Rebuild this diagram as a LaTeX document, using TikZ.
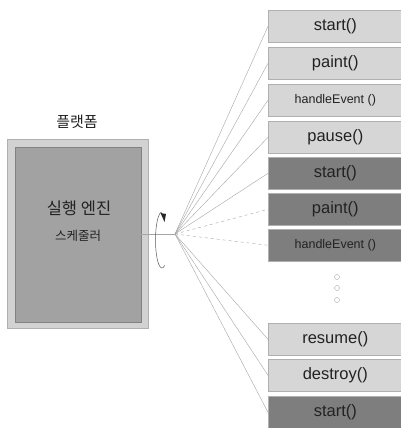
\documentclass[tikz,border=0pt]{standalone}
\usepackage{fontspec}
\setmainfont{Liberation Sans}
\newfontfamily\kor{Noto Sans CJK KR}
\usetikzlibrary{arrows.meta}
\definecolor{lightbox}{HTML}{D6D6D6}
\definecolor{darkbox}{HTML}{7E7E7E}
\definecolor{boxline}{HTML}{B0B0B0}
\definecolor{outerbox}{HTML}{D2D2D2}
\definecolor{innerbox}{HTML}{A2A2A2}
\definecolor{txt}{HTML}{222222}
\begin{document}
\begin{tikzpicture}[x=1pt,y=-1pt,
  fn/.style={draw=boxline, line width=0.6pt, minimum width=134pt, minimum height=32pt, anchor=north west, inner sep=0pt, text=txt, font=\fontsize{16.5}{18}\selectfont},
  lt/.style={fn, fill=lightbox},
  dk/.style={fn, fill=darkbox},
  sm/.style={font=\fontsize{12.5}{14}\selectfont},
  fan/.style={draw=gray!70, line width=0.4pt},
  fand/.style={fan, dashed}]
\useasboundingbox (0,0) rectangle (400,428);
\fill[white] (0,0) rectangle (400,428);
% platform
\node[text=txt, font=\kor\fontsize{15}{17}\selectfont] (plat) at (77,122) {플랫폼};
\node[draw=boxline, fill=outerbox, minimum width=141pt, minimum height=189pt, anchor=north west, inner sep=0pt] (outer) at (7,139) {};
\node[draw=innerbox!80!black, fill=innerbox, line width=0.4pt, minimum width=126pt, minimum height=175pt, anchor=north west, inner sep=0pt] (inner) at (15,147) {};
\node[text=txt, font=\kor\fontsize{16.5}{18}\selectfont] (eng) at (79,208) {실행 엔진};
\node[text=txt, font=\kor\fontsize{12.5}{14}\selectfont] (sch) at (78,236) {스케줄러};
% function boxes
\node[lt] (b1) at (268,10) {start()};
\node[lt] (b2) at (268,47) {paint()};
\node[lt, sm] (b3) at (268,84) {handleEvent ()};
\node[lt] (b4) at (268,121) {pause()};
\node[dk] (b5) at (268,157) {start()};
\node[dk] (b6) at (268,193) {paint()};
\node[dk, sm] (b7) at (268,229) {handleEvent ()};
\node[lt] (b8) at (268,323) {resume()};
\node[lt] (b9) at (268,359) {destroy()};
\node[dk] (b10) at (268,396) {start()};
% dots
\foreach \yy/\nm in {277/d1,288/d2,300/d3}
  \node[draw=gray!70, line width=0.4pt, circle, inner sep=0pt, minimum size=5pt] (\nm) at (337,\yy) {};
% hub
\coordinate (hub) at (175,234);
\draw[fan] (inner.east |- hub) -- (hub);
\foreach \b in {b1,b2,b3,b4,b5,b8,b9,b10}
  \draw[fan] (hub) -- (\b.west);
\draw[fand] (hub) -- (b6.west);
\draw[fand] (hub) -- (b7.west);
% rotation arrow
\draw[gray!70!black, line width=0.5pt] (162,212) arc[start angle=90, end angle=295, x radius=6.5pt, y radius=28pt];
\fill[black!85] (160.5,213) -- (166,214) -- (164.5,222) -- cycle;
\end{tikzpicture}
\end{document}
